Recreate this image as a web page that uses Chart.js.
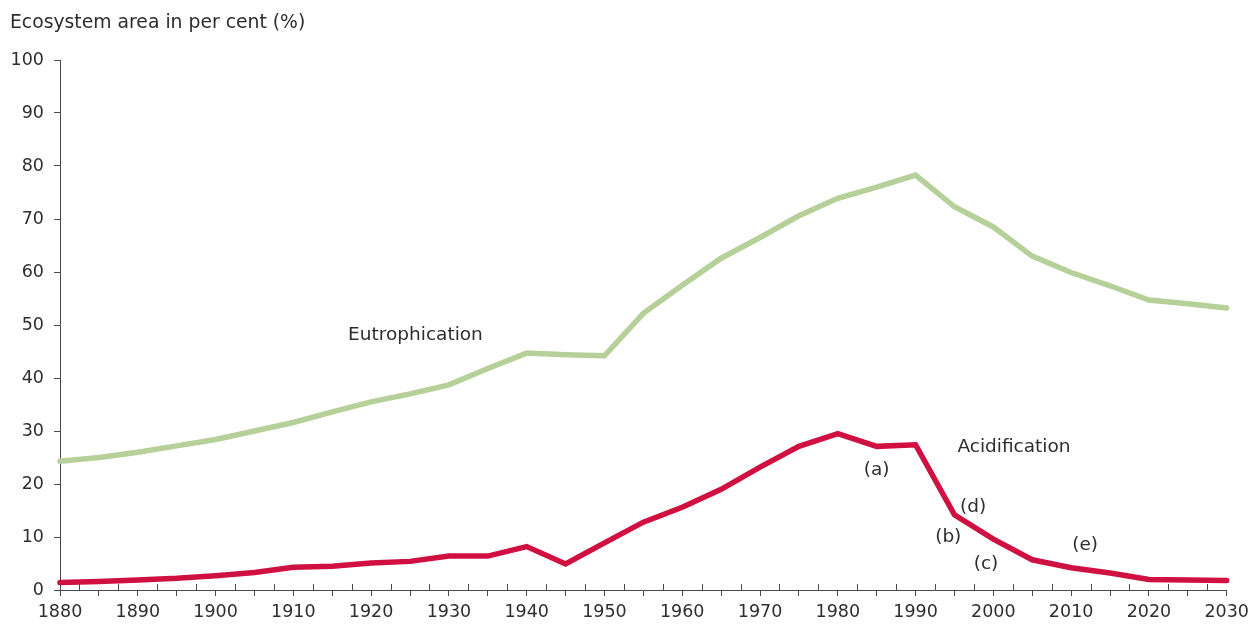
<!DOCTYPE html>
<html>
<head>
<meta charset="utf-8">
<script src="https://cdn.jsdelivr.net/npm/chart.js@4/dist/chart.umd.min.js"></script>
<style>
  html, body { margin: 0; padding: 0; background: #fff; }
  #wrap { position: relative; width: 1250px; height: 629px; }
</style>
</head>
<body>
<div id="wrap"><canvas id="c"></canvas></div>
<script>
// ---- Data ----
const years = [1880, 1885, 1890, 1895, 1900, 1905, 1910, 1915, 1920, 1925,
               1930, 1935, 1940, 1945, 1950, 1955, 1960, 1965, 1970, 1975,
               1980, 1985, 1990, 1995, 2000, 2005, 2010, 2015, 2020, 2025, 2030];
const eutrophication = [24.3, 25.0, 26.0, 27.2, 28.4, 30.0, 31.6, 33.6, 35.5, 37.0,
                        38.7, 41.8, 44.7, 44.4, 44.2, 52.2, 57.5, 62.6, 66.5, 70.6,
                        73.9, 76.0, 78.3, 72.3, 68.5, 63.0, 59.9, 57.4, 54.7, 54.0, 53.2];
const acidification = [1.4, 1.6, 1.9, 2.2, 2.7, 3.3, 4.3, 4.5, 5.1, 5.4,
                       6.4, 6.4, 8.2, 4.9, 8.9, 12.8, 15.6, 19.0, 23.2, 27.1,
                       29.5, 27.1, 27.4, 14.2, 9.6, 5.7, 4.2, 3.2, 2.0, 1.9, 1.8];
const yTickValues = [0, 10, 20, 30, 40, 50, 60, 70, 80, 90, 100];
const axisTitle = 'Ecosystem area in per cent (%)';
const annotationTexts = ['Eutrophication', 'Acidification', '(a)', '(b)', '(c)', '(d)', '(e)'];
const annotationYears = [1925.7, 2002.65, 1985.0, 1994.2, 1999.05, 1997.4, 2011.8];
const annotationValues = [48.1, 27.0, 22.6, 10.0, 4.9, 15.7, 8.5];

// ---- Styles ----
const FONT = 'DejaVu Sans, Verdana, sans-serif';
const TEXT = '#2e2e2e';
const AXIS = '#4a4a4a';
const GREEN = 'rgb(181,208,152)';
const RED = 'rgb(208,16,64)';

const toPts = (ys) => years.map((x, i) => ({ x: x, y: ys[i] }));

const extras = {
  id: 'extras',
  afterDraw(chart) {
    const ctx = chart.ctx;
    const xs = chart.scales.x, ys = chart.scales.y;
    const ca = chart.chartArea;
    ctx.save();
    // upward minor ticks between the 5-year categories
    ctx.strokeStyle = AXIS;
    ctx.lineWidth = 1;
    ctx.beginPath();
    for (let i = 0; i < years.length - 1; i++) {
      const v = (years[i] + years[i + 1]) / 2;
      const px = Math.round(xs.getPixelForValue(v)) + 0.5;
      ctx.moveTo(px, ca.bottom);
      ctx.lineTo(px, ca.bottom - 6);
    }
    ctx.stroke();
    // axis title
    ctx.fillStyle = TEXT;
    ctx.font = '18.8px ' + FONT;
    ctx.textAlign = 'left';
    ctx.textBaseline = 'middle';
    ctx.fillText(axisTitle, 10, 23);
    // annotations
    ctx.font = '18.5px ' + FONT;
    ctx.textAlign = 'center';
    annotationTexts.forEach((t, i) => {
      ctx.fillText(t, xs.getPixelForValue(annotationYears[i]), ys.getPixelForValue(annotationValues[i]));
    });
    ctx.restore();
  }
};

new Chart(document.getElementById('c'), {
  type: 'line',
  data: {
    datasets: [
      { label: 'Eutrophication', data: toPts(eutrophication), borderColor: GREEN, borderWidth: 5.5,
        pointRadius: 0, tension: 0, borderCapStyle: 'round', clip: false },
      { label: 'Acidification', data: toPts(acidification), borderColor: RED, borderWidth: 5.5,
        pointRadius: 0, tension: 0, borderCapStyle: 'round', clip: false }
    ]
  },
  options: {
    responsive: true,
    maintainAspectRatio: false,
    animation: false,
    layout: { padding: { left: 0, top: 60, right: 23.3, bottom: 0 } },
    plugins: { legend: { display: false }, tooltip: { enabled: false }, title: { display: false } },
    scales: {
      x: {
        type: 'linear', min: years[0], max: years[years.length - 1],
        afterFit(s) { s.height = 39; s.paddingLeft = 0; s.paddingRight = 0; },
        afterBuildTicks(s) { s.ticks = years.map(v => ({ value: v })); },
        ticks: {
          autoSkip: false, maxRotation: 0, minRotation: 0, padding: 6,
          color: TEXT, font: { family: FONT, size: 17.5 },
          callback: (v) => (v % 10 === 0 ? String(v) : '')
        },
        grid: { drawOnChartArea: false, tickLength: 6, color: AXIS, lineWidth: 1 },
        border: { color: AXIS, width: 1 }
      },
      y: {
        min: 0, max: 100,
        afterFit(s) { s.width = 60; s.paddingTop = 0; s.paddingBottom = 0; },
        afterBuildTicks(s) { s.ticks = yTickValues.map(v => ({ value: v })); },
        ticks: { padding: 10, color: TEXT, font: { family: FONT, size: 17.5 } },
        grid: { drawOnChartArea: false, tickLength: 6, color: AXIS, lineWidth: 1 },
        border: { color: AXIS, width: 1 }
      }
    }
  },
  plugins: [extras]
});
</script>
</body>
</html>
